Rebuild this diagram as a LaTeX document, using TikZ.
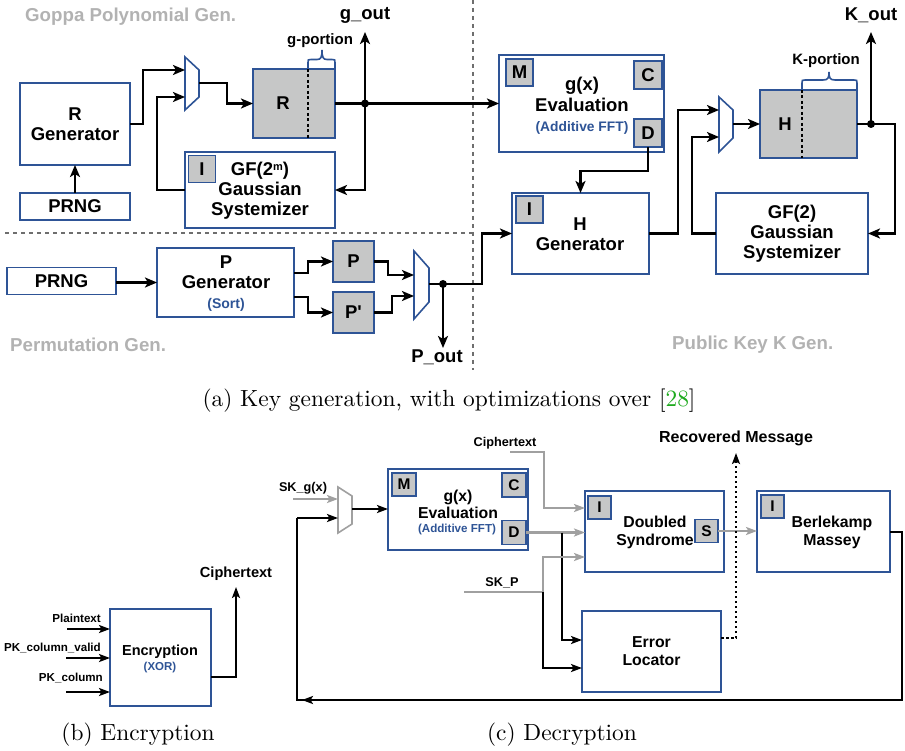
\documentclass[tikz,border=0pt]{standalone}
\usepackage{fontspec}
\newfontfamily\arialf{Liberation Sans}
\newfontfamily\capfont{lmroman10-regular}[Extension=.otf]
\usetikzlibrary{arrows.meta,calc}
\definecolor{bblue}{RGB}{46,84,150}
\definecolor{tagfill}{RGB}{198,199,199}
\definecolor{lblgray}{RGB}{178,178,178}
\definecolor{lgray}{RGB}{160,160,160}
\definecolor{divgray}{RGB}{110,110,110}
\definecolor{citegreen}{RGB}{30,170,30}
\tikzset{
  box/.style={draw=bblue, line width=1.8pt, fill=white, inner sep=0pt, outer sep=0pt},
  reg/.style={box, fill=tagfill},
  tagA/.style={reg, minimum width=27pt, minimum height=27pt, font=\arialf\bfseries\fontsize{18.5}{20}\selectfont},
  tagC/.style={reg, minimum width=23pt, minimum height=23pt, font=\arialf\bfseries\fontsize{15.5}{17}\selectfont},
  big/.style={font=\arialf\bfseries\fontsize{18.5}{19.8}\selectfont, align=center, inner sep=0pt},
  midf/.style={font=\arialf\bfseries\fontsize{15.8}{18}\selectfont, align=center, inner sep=0pt},
  subA/.style={font=\arialf\bfseries\fontsize{13.8}{15}\selectfont, text=bblue, inner sep=0pt},
  secl/.style={font=\arialf\bfseries\fontsize{18.7}{20}\selectfont, text=lblgray, inner sep=0pt},
  smallf/.style={font=\arialf\bfseries\fontsize{12.7}{14}\selectfont, inner sep=0pt},
  tinyf/.style={font=\arialf\bfseries\fontsize{11.6}{13}\selectfont, inner sep=0pt},
  capf/.style={font=\capfont\fontsize{23.4}{27}\selectfont, inner sep=0pt},
  conn/.style={line width=2.8pt, draw=black},
  arr/.style={conn, -{Stealth[length=12pt,width=10pt,inset=3pt]}},
  connC/.style={line width=2.4pt, draw=black},
  arrC/.style={connC, -{Stealth[length=11pt,width=8pt,inset=2.5pt]}},
  gconn/.style={line width=2.4pt, draw=lgray},
  garr/.style={gconn, -{Stealth[length=11pt,width=8pt,inset=2.5pt]}},
  arrB/.style={line width=2.2pt, -{Stealth[length=11pt,width=8pt,inset=2.5pt]}},
  muxs/.style={draw=bblue, line width=1.6pt, fill=white},
  divider/.style={draw=divgray, line width=1.4pt, dash pattern=on 4pt off 4pt},
  inner dash/.style={draw=black, line width=1.8pt, dash pattern=on 3pt off 2.5pt},
  bracest/.style={draw=bblue, line width=1.6pt},
  portion/.style={font=\arialf\bfseries\fontsize{15}{16}\selectfont, inner sep=0pt},
}
\begin{document}
\begin{tikzpicture}[x=1pt,y=-1pt]
\useasboundingbox (0,0) rectangle (905,751);

% ---------- dividers ----------
\draw[divider] (5,233) -- (473,233);
\draw[divider] (473,0) -- (473,370);

% ---------- section labels ----------
\node[secl, anchor=west] (lgoppa) at (25,17) {Goppa Polynomial Gen.};
\node[secl, anchor=west] (lperm) at (10,345) {Permutation Gen.};
\node[secl, anchor=west] (lpub) at (672,345) {Public Key K Gen.};

% ---------- Goppa polynomial ----------
\node[box, minimum width=110pt, minimum height=82pt, big] (rgen) at (75,124) {R\\Generator};
\node[box, minimum width=110pt, minimum height=27pt, big] (prng1) at (75,206.5) {PRNG};
\draw[arr] (prng1.north) -- (rgen.south);

\draw[muxs] (185,57) -- (199,70) -- (199,97) -- (185,110) -- cycle;
\coordinate (m1a) at (185,70);
\coordinate (m1b) at (185,97);
\coordinate (m1o) at (199,83);
\draw[arr] (rgen.east) -- (143,124) -- (143,70) -- (m1a);

\node[reg, minimum width=82pt, minimum height=69pt] (rreg) at (294,103.5) {};
\node[big] (rlbl) at (283,103) {R};
\draw[inner dash] (308,69) -- (308,138);
\draw[bracest] (308,69) -- (308,62.5) .. controls (308,59.5) .. (311,59.5) -- (317,59.5) .. controls (321,59.5) and (322,57) .. (322,50) .. controls (322,57) and (323,59.5) .. (327,59.5) -- (332,59.5) .. controls (335,59.5) .. (335,62.5) -- (335,69);
\node[portion] (gport) at (320,41) {g-portion};
\draw[arr] (m1o) -- (227,83) -- (227,103.5) -- (rreg.west);

\node[box, minimum width=150pt, minimum height=76pt] (gsys1) at (260,190) {};
\node[tagA] (gi1) at (202,169) {I};
\node[big] (gsys1t) at (260,191) {GF(2\raisebox{0.55ex}{\fontsize{11}{11}\selectfont m})\\Gaussian\\Systemizer};

\coordinate (j1) at (365,103.5);
\coordinate (goutc) at (365,32);
\node[big] (gout) at (365,15) {g\_out};

% ---------- g(x) evaluation (keygen) ----------
\node[box, minimum width=165pt, minimum height=97pt] (geval1) at (581.5,103.5) {};
\node[tagA] (gm1) at (519.5,72.5) {M};
\node[tagA, minimum width=28pt, minimum height=28pt] (gc1) at (648,75) {C};
\node[tagA, minimum width=28pt, minimum height=28pt] (gd1) at (648,133) {D};
\node[big] (geval1a) at (582,86) {g(x)};
\node[big] (geval1b) at (582,105) {Evaluation};
\node[subA] (geval1c) at (582,128) {(Additive FFT)};

\draw[conn] (rreg.east) -- (j1);
\draw[arr] (j1) -- (geval1.west);
\draw[arr] (j1) -- (goutc);
\draw[arr] (j1) -- (365,190) -- (gsys1.east);
\draw[arr] (gsys1.west) -- (157,190) -- (157,97) -- (m1b);
\fill (j1) circle (4pt);

% ---------- H generator ----------
\node[box, minimum width=137pt, minimum height=81pt] (hgen) at (580.5,233.5) {};
\node[tagA] (hi) at (529.5,209.5) {I};
\node[big] (hgent) at (580,234) {H\\Generator};
\draw[arr] (gd1.south) -- (648,171) -- (580.5,171) -- (hgen.north);

% ---------- mux 2 and H register ----------
\draw[muxs] (719,97) -- (733,110) -- (733,138) -- (719,152) -- cycle;
\coordinate (m2a) at (719,110);
\coordinate (m2b) at (719,137);
\coordinate (m2o) at (733,124);
\node[reg, minimum width=97pt, minimum height=68pt] (hreg) at (808.5,124) {};
\node[big] (hlbl) at (785,124) {H};
\draw[inner dash] (802,90) -- (802,158);
\draw[bracest] (802,90) -- (802,83) .. controls (802,80) .. (805,80) -- (823,80) .. controls (828,80) and (829,78) .. (829,72) .. controls (829,78) and (830,80) .. (835,80) -- (854,80) .. controls (857,80) .. (857,83) -- (857,90);
\node[portion] (kport) at (826,61) {K-portion};
\draw[arr] (hgen.east) -- (678,233.5) -- (678,110) -- (m2a);
\draw[arr] (m2o) -- (hreg.west);

\node[box, minimum width=152pt, minimum height=81pt, big] (gsys2) at (792,233.5) {GF(2)\\Gaussian\\Systemizer};
\coordinate (j2) at (871,124);
\coordinate (koutc) at (871,32);
\node[big] (kout) at (871,15) {K\_out};
\draw[conn] (hreg.east) -- (j2);
\draw[arr] (j2) -- (koutc);
\draw[arr] (j2) -- (895,124) -- (895,233.5) -- (gsys2.east);
\draw[arr] (gsys2.west) -- (692,233.5) -- (692,137) -- (m2b);
\fill (j2) circle (4pt);

% ---------- permutation ----------
\node[box, minimum width=109pt, minimum height=27pt, big] (prng2) at (61.5,281) {PRNG};
\node[box, minimum width=137pt, minimum height=69pt] (pgen) at (225.5,282.5) {};
\node[big] (pgent) at (226,272) {P\\Generator};
\node[font=\arialf\bfseries\fontsize{14}{15}\selectfont, text=bblue, inner sep=0pt] (psort) at (226,305) {(Sort)};
\draw[arr] (prng2.east |- pgen.west) -- (pgen.west);

\node[reg, minimum width=41pt, minimum height=41pt, big] (preg) at (353.5,261.5) {P};
\node[reg, minimum width=41pt, minimum height=41pt, big] (ppreg) at (353.5,312.5) {P'};
\draw[arr] (294,273) -- (308,273) -- (308,261.5) -- (preg.west);
\draw[arr] (294,297) -- (308,297) -- (308,312.5) -- (ppreg.west);

\draw[muxs] (414,251) -- (429,268) -- (429,302) -- (414,319) -- cycle;
\coordinate (m3a) at (414,275);
\coordinate (m3b) at (414,296);
\coordinate (m3o) at (429,284);
\draw[arr] (preg.east) -- (388,261.5) -- (388,275) -- (m3a);
\draw[arr] (ppreg.east) -- (392,312.5) -- (392,296) -- (m3b);
\coordinate (j3) at (443,284);
\coordinate (poutc) at (443,348);
\node[big] (pout) at (437,357) {P\_out};
\draw[conn] (m3o) -- (j3);
\draw[arr] (j3) -- (482,284) -- (482,233.5) -- (hgen.west);
\draw[arr] (j3) -- (poutc);
\fill (j3) circle (4pt);

\node[capf] (capa) at (449,401) {(a) Key generation, with optimizations over [\textcolor{citegreen}{28}]};

% ---------- (b) encryption ----------
\node[box, minimum width=101pt, minimum height=97pt] (enc) at (160.5,657.5) {};
\node[font=\arialf\bfseries\fontsize{14.5}{16}\selectfont, inner sep=0pt] (enct) at (160,652) {Encryption};
\node[font=\arialf\bfseries\fontsize{11.5}{13}\selectfont, text=bblue, inner sep=0pt] (encx) at (160,668) {(XOR)};
\coordinate (pti) at (67,629);
\coordinate (pkvi) at (66,658);
\coordinate (pki) at (66,692);
\node[tinyf, anchor=east] (lpt) at (101,618) {Plaintext};
\node[tinyf, anchor=east] (lpkv) at (101,648) {PK\_column\_valid};
\node[tinyf, anchor=east] (lpk) at (103,678) {PK\_column};
\draw[arrB] (pti) -- (pti -| enc.west);
\draw[arrB] (pkvi) -- (pkvi -| enc.west);
\draw[arrB] (pki) -- (pki -| enc.west);
\coordinate (ctb) at (236,587);
\node[font=\arialf\bfseries\fontsize{14.6}{16}\selectfont, inner sep=0pt] (lctb) at (236,574) {Ciphertext};
\draw[arrB] (211,677) -- (236,677) -- (ctb);
\node[capf] (capb) at (138,735) {(b) Encryption};

% ---------- (c) decryption ----------
\draw[draw=lgray, line width=1.6pt, fill=white] (338,487) -- (352,496) -- (352,524) -- (338,533) -- cycle;
\coordinate (m4a) at (338,499);
\coordinate (m4b) at (338,518);
\coordinate (m4o) at (352,509);
\coordinate (skgi) at (293,499);
\node[smallf] (lskg) at (303,488) {SK\_g(x)};
\draw[garr] (skgi) -- (m4a);

\node[box, minimum width=140pt, minimum height=81pt] (geval2) at (458,509.5) {};
\node[tagC, minimum width=24pt] (gm2) at (404,484.5) {M};
\node[tagC, minimum width=24pt, minimum height=24pt] (gc2) at (514,485) {C};
\node[tagC, minimum width=24pt, minimum height=24pt] (gd2) at (514,532.5) {D};
\node[midf] (geval2a) at (458,497) {g(x)};
\node[midf] (geval2b) at (458,513) {Evaluation};
\node[font=\arialf\bfseries\fontsize{11.6}{13}\selectfont, text=bblue, inner sep=0pt] (geval2c) at (457,529) {(Additive FFT)};
\draw[arrC] (m4o) -- (geval2.west |- m4o);

\node[box, minimum width=139pt, minimum height=81pt] (dsyn) at (654.5,531.5) {};
\node[tagC] (dsi) at (599.5,507.5) {I};
\node[tagC] (dss) at (706.5,531) {S};
\node[midf] (dsynt) at (655,532) {Doubled\\Syndrome};

\node[box, minimum width=133pt, minimum height=81pt] (bm) at (823.5,531.5) {};
\node[tagC] (bmi) at (772.5,506.5) {I};
\node[midf] (bmt) at (832,532) {Berlekamp\\Massey};

\node[box, minimum width=139pt, minimum height=81pt, midf] (eloc) at (651.5,651.5) {Error\\Locator};

\coordinate (cti) at (510,452);
\node[smallf] (lctc) at (505,443) {Ciphertext};
\draw[garr] (cti) -- (544,452) -- (544,508) -- (dsyn.west |- 0,508);

\draw[garr] (gd2.east) -- (dsyn.west |- gd2.east);
\draw[arrC] (562,532.5) -- (562,640) -- (eloc.west |- 0,640);

\coordinate (skpi) at (464,592);
\node[smallf] (lskp) at (502,583) {SK\_P};
\draw[gconn] (skpi) -- (543,592);
\draw[garr] (543,592) -- (543,557) -- (dsyn.west |- 0,557);
\draw[arrC] (543,592) -- (543,668) -- (eloc.west |- 0,668);

\draw[garr] (dss.east) -- (bm.west |- dss.east);

\coordinate (recc) at (736,453);
\node[font=\arialf\bfseries\fontsize{16}{17}\selectfont, inner sep=0pt] (lrec) at (736,438) {Recovered Message};
\draw[line width=2.4pt, dash pattern=on 2.5pt off 2.5pt, -{Stealth[length=11pt,width=8pt,inset=2.5pt]}] (eloc.east |- 0,638) -- (736,638) -- (recc);

\draw[connC] (bm.east |- 0,532) -- (902,532) -- (902,700) -- (297,700) -- (297,518);
\draw[arrC] (297,518) -- (m4b);
\draw[arrC] (318,700) -- (302,700);

\node[capf] (capc) at (562,735) {(c) Decryption};
\end{tikzpicture}
\end{document}
